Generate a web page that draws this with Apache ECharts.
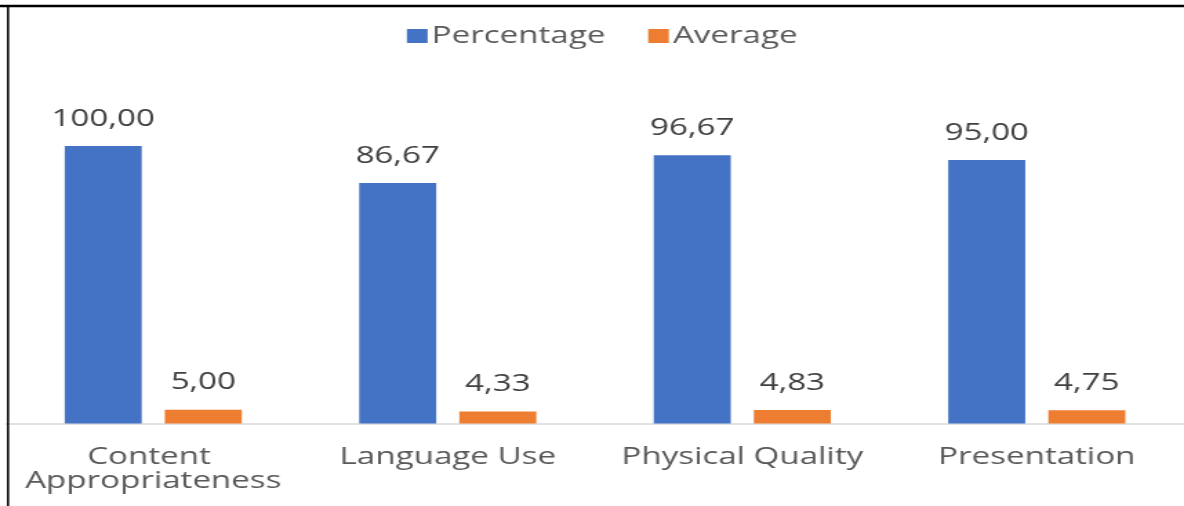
<!DOCTYPE html>
<html>
<head>
<meta charset="utf-8">
<script src="https://cdn.jsdelivr.net/npm/echarts@6/dist/echarts.min.js"></script>
<style>
  html, body { margin: 0; padding: 0; background: #fff; overflow: hidden; }
  #wrap { width: 1184px; height: 506px; position: relative; overflow: hidden; }
  #chart { position: absolute; left: 0; top: 0; height: 506px; transform-origin: 0 0; }
</style>
</head>
<body>
<div id="wrap"><div id="chart"></div></div>
<script>
const categories = ['Content Appropriateness', 'Language Use', 'Physical Quality', 'Presentation'];
const percentage = [100.00, 86.67, 96.67, 95.00];
const average = [5.00, 4.33, 4.83, 4.75];
const seriesNames = ['Percentage', 'Average'];

// The reference image is horizontally stretched; draw at narrower width and stretch.
const S = 1.38;
const W = 1184 / S;
const el = document.getElementById('chart');
el.style.width = W + 'px';
el.style.transform = 'scaleX(' + S + ')';

const FONT = "'Open Sans', 'Noto Sans', sans-serif";
const fmt = v => v.toFixed(2).replace('.', ',');

const chart = echarts.init(el);
const catW = 297.3 / S;
chart.setOption({
  animation: false,
  textStyle: { fontFamily: FONT },
  legend: {
    data: seriesNames,
    left: 400 / S,
    top: 19,
    itemWidth: 15,
    itemHeight: 14,
    itemGap: 31,
    icon: 'rect',
    textStyle: { fontSize: 24, color: '#595959', fontFamily: FONT, padding: [0, 0, 0, -2] }
  },
  grid: {
    left: 6 / S,
    right: W - 6 / S - 4 * catW,
    top: 146,
    bottom: 82.5,
    containLabel: false
  },
  xAxis: {
    type: 'category',
    data: categories,
    axisLine: { show: true, lineStyle: { color: '#d9d9d9', width: 1.5 } },
    axisTick: { show: false },
    axisLabel: {
      interval: 0,
      margin: 22,
      fontSize: 24,
      lineHeight: 24,
      color: '#595959',
      fontFamily: FONT,
      width: catW - 8,
      overflow: 'break'
    }
  },
  yAxis: {
    type: 'value',
    min: 0,
    max: 100,
    show: false,
    splitLine: { show: false }
  },
  series: [
    {
      name: seriesNames[0],
      type: 'bar',
      data: percentage,
      barWidth: 77 / S,
      barGap: '30%',
      itemStyle: { color: '#4472C4' },
      label: {
        show: true, position: 'top', distance: 15,
        fontSize: 24, color: '#404040', fontFamily: FONT,
        formatter: p => fmt(p.value)
      }
    },
    {
      name: seriesNames[1],
      type: 'bar',
      data: average,
      barWidth: 77 / S,
      itemStyle: { color: '#ED7D31' },
      label: {
        show: true, position: 'top', distance: 15,
        fontSize: 24, color: '#404040', fontFamily: FONT,
        formatter: p => fmt(p.value)
      }
    }
  ],
  graphic: [
    { type: 'line', shape: { x1: 0, y1: 6, x2: W, y2: 6 }, style: { stroke: '#000', lineWidth: 2.5 }, z: 100 },
    { type: 'line', shape: { x1: 8 / S, y1: 5, x2: 8 / S, y2: 506 }, style: { stroke: '#000', lineWidth: 2.2 / S }, z: 100 }
  ]
});
</script>
</body>
</html>
